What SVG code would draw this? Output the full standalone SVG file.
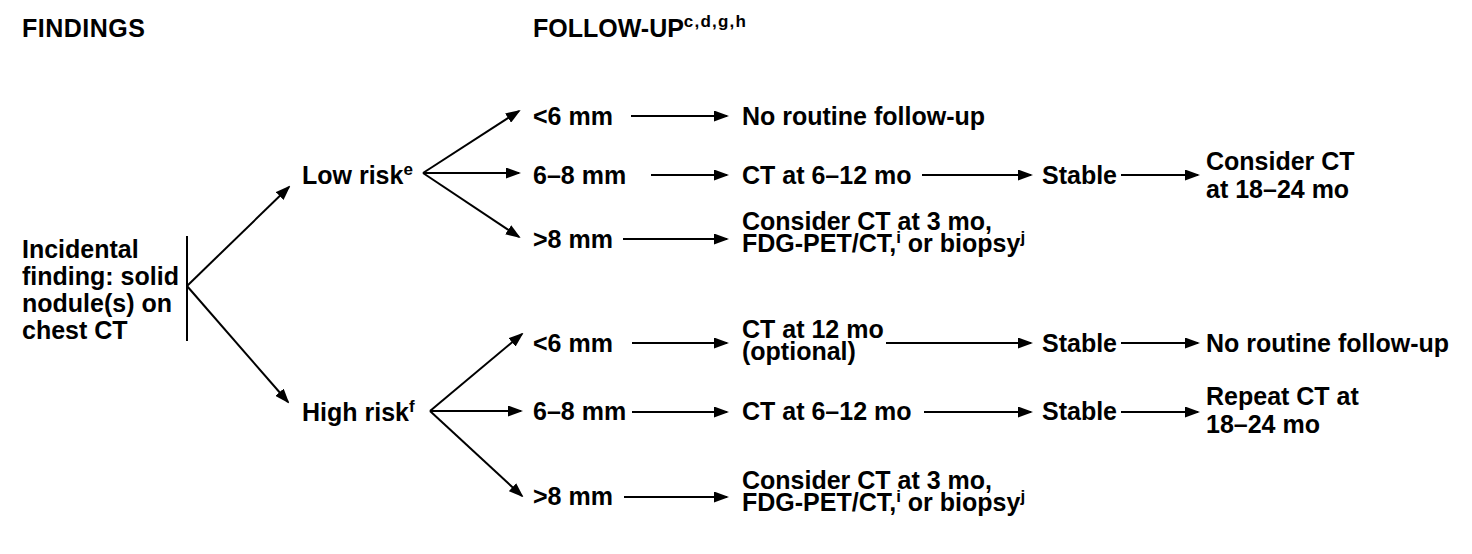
<svg xmlns="http://www.w3.org/2000/svg" width="1472" height="554" viewBox="0 0 1472 554">
<style>
text{font-family:"Liberation Sans",Arial,Helvetica,sans-serif;font-weight:bold;font-size:25px;fill:#000}
.sup{font-size:17px}
.hsup{font-size:17px;letter-spacing:1.2px}
.c line{stroke:#000;stroke-width:2;fill:none}
</style>
<defs>
<marker id="ah" markerUnits="userSpaceOnUse" markerWidth="15" markerHeight="11" refX="13" refY="5.5" orient="auto">
<path d="M0,0 L15,5.5 L0,11 z" fill="#000" stroke="none"/>
</marker>
</defs>
<rect width="1472" height="554" fill="#fff"/>
<g id="headers">
<text x="22" y="37" letter-spacing="0.5">FINDINGS</text>
<text x="533" y="37">FOLLOW-UP<tspan class="hsup" dy="-10">c,d,g,h</tspan></text>
</g>
<g id="incidental">
<text x="22" y="258">Incidental</text>
<text x="22" y="285">finding: solid</text>
<text x="22" y="312">nodule(s) on</text>
<text x="22" y="339">chest CT</text>
</g>
<g id="low-risk"><text x="302" y="184">Low risk<tspan class="sup" dy="-9">e</tspan></text></g>
<g id="high-risk"><text x="302" y="421">High risk<tspan class="sup" dy="-9">f</tspan></text></g>
<g id="low-lt6"><text x="533" y="125">&lt;6 mm</text></g>
<g id="low-6to8"><text x="533" y="184">6–8 mm</text></g>
<g id="low-gt8"><text x="533" y="248">&gt;8 mm</text></g>
<g id="high-lt6"><text x="533" y="352">&lt;6 mm</text></g>
<g id="high-6to8"><text x="533" y="420">6–8 mm</text></g>
<g id="high-gt8"><text x="533" y="505">&gt;8 mm</text></g>
<g id="low-no-followup"><text x="742" y="125">No routine follow-up</text></g>
<g id="low-ct-6-12"><text x="742" y="184">CT at 6–12 mo</text></g>
<g id="low-consider"><text x="742" y="230">Consider CT at 3 mo,</text><text x="742" y="252">FDG-PET/CT,<tspan class="sup" dy="-9">i</tspan><tspan dy="9"> or biopsy</tspan><tspan class="sup" dy="-9">j</tspan></text></g>
<g id="low-stable"><text x="1042" y="184">Stable</text></g>
<g id="low-consider-18"><text x="1206" y="170">Consider CT</text><text x="1206" y="198">at 18–24 mo</text></g>
<g id="high-ct-12"><text x="742" y="338">CT at 12 mo</text><text x="742" y="360">(optional)</text></g>
<g id="high-stable-1"><text x="1042" y="352">Stable</text></g>
<g id="high-no-followup"><text x="1206" y="352">No routine follow-up</text></g>
<g id="high-ct-6-12"><text x="742" y="420">CT at 6–12 mo</text></g>
<g id="high-stable-2"><text x="1042" y="420">Stable</text></g>
<g id="high-repeat"><text x="1206" y="405">Repeat CT at</text><text x="1206" y="433">18–24 mo</text></g>
<g id="high-consider"><text x="742" y="489">Consider CT at 3 mo,</text><text x="742" y="511">FDG-PET/CT,<tspan class="sup" dy="-9">i</tspan><tspan dy="9"> or biopsy</tspan><tspan class="sup" dy="-9">j</tspan></text></g>
<g id="connectors" class="c">
<line x1="187" y1="236" x2="187" y2="341"/>
<line x1="187" y1="286" x2="289" y2="187" marker-end="url(#ah)"/>
<line x1="187" y1="286" x2="288" y2="402" marker-end="url(#ah)"/>
<line x1="423" y1="173" x2="519" y2="111" marker-end="url(#ah)"/>
<line x1="423" y1="173" x2="519" y2="173" marker-end="url(#ah)"/>
<line x1="423" y1="173" x2="519" y2="237" marker-end="url(#ah)"/>
<line x1="430" y1="411" x2="522" y2="334" marker-end="url(#ah)"/>
<line x1="430" y1="411" x2="521" y2="411" marker-end="url(#ah)"/>
<line x1="430" y1="411" x2="522" y2="496" marker-end="url(#ah)"/>
<line x1="631" y1="116" x2="727" y2="116" marker-end="url(#ah)"/>
<line x1="651" y1="175" x2="727" y2="175" marker-end="url(#ah)"/>
<line x1="623" y1="239" x2="727" y2="239" marker-end="url(#ah)"/>
<line x1="922" y1="175" x2="1031" y2="175" marker-end="url(#ah)"/>
<line x1="1121" y1="175" x2="1198" y2="175" marker-end="url(#ah)"/>
<line x1="632" y1="343" x2="727" y2="343" marker-end="url(#ah)"/>
<line x1="886" y1="343" x2="1031" y2="343" marker-end="url(#ah)"/>
<line x1="1121" y1="343" x2="1198" y2="343" marker-end="url(#ah)"/>
<line x1="632" y1="412" x2="727" y2="412" marker-end="url(#ah)"/>
<line x1="924" y1="412" x2="1031" y2="412" marker-end="url(#ah)"/>
<line x1="1121" y1="412" x2="1198" y2="412" marker-end="url(#ah)"/>
<line x1="624" y1="497" x2="727" y2="497" marker-end="url(#ah)"/>
</g>
</svg>
